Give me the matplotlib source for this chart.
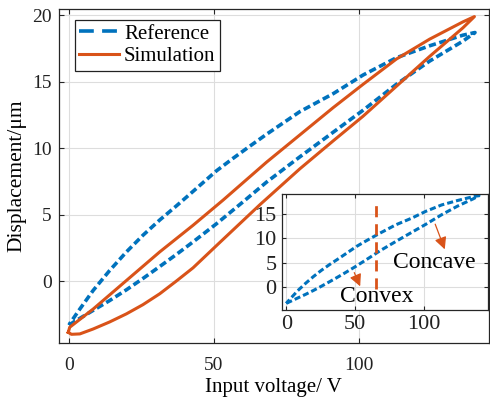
import numpy as np
import matplotlib.pyplot as plt

plt.rcParams['font.family'] = ['Liberation Serif', 'DejaVu Serif']

# measured loop, rising branch then falling branch
ref_up_x = [0, 1.4, 8.3, 14, 19.8, 25.5, 31.3, 37, 42.8, 50.8, 60, 68.2, 79.7, 91.2, 101.5, 113, 124.5, 136, 140.2]
ref_up_y = [-3.3, -3.1, -2.2, -1.46, -0.65, 0.2, 1.1, 2.0, 2.95, 4.3, 5.95, 7.45, 9.35, 11.2, 12.85, 14.8, 16.55, 18.05, 18.7]
ref_dn_x = [140.2, 136, 124.5, 113, 101.5, 91.2, 79.7, 68.2, 62.4, 56.7, 50.9, 42.8, 37, 31.3, 25.5, 19.8, 14, 8.3, 3.7, 0.2, 0]
ref_dn_y = [18.7, 18.5, 17.7, 16.8, 15.5, 14.1, 12.75, 11.05, 10.15, 9.25, 8.3, 6.75, 5.65, 4.6, 3.45, 2.2, 0.8, -0.7, -2.1, -3.2, -3.3]

# simulated loop
sim_up_x = [-0.3, 0.8, 3.7, 8.3, 14, 19.8, 25.5, 31.3, 37, 42.8, 52, 65.9, 79.7, 91.2, 101.5, 113, 124.5, 136, 140]
sim_up_y = [-3.85, -4.0, -3.97, -3.6, -3.07, -2.46, -1.77, -0.95, 0.0, 1.0, 2.9, 5.75, 8.45, 10.55, 12.4, 14.65, 16.9, 19.05, 19.9]
sim_dn_x = [140, 136, 124.5, 113, 101.5, 91.2, 79.7, 68.2, 53.2, 42.8, 31.3, 19.8, 8.3, 0.2, -0.3]
sim_dn_y = [19.9, 19.5, 18.2, 16.7, 14.8, 13.05, 11.0, 8.95, 6.1, 4.2, 2.2, 0.05, -2.1, -3.47, -3.85]

ref_x = ref_up_x + ref_dn_x
ref_y = ref_up_y + ref_dn_y
sim_x = sim_up_x + sim_dn_x
sim_y = sim_up_y + sim_dn_y

blue = '#0072BD'
orange = '#D95319'
axcol = '#262626'

fig = plt.figure(figsize=(4.9, 4.03), dpi=100)
ax = fig.add_axes([0.1198, 0.149, 0.878, 0.828])

ax.plot(ref_x, ref_y, color=blue, lw=2.6, ls=(0, (2.0, 1.0)), label='Reference', solid_joinstyle='round')
ax.plot(sim_x, sim_y, color=orange, lw=2.2, label='Simulation', solid_joinstyle='round')

ax.set_xlim(-3.6, 145)
ax.set_ylim(-4.65, 20.45)
ax.set_xticks([0, 50, 100])
ax.set_yticks([0, 5, 10, 15, 20])
ax.grid(True, color='#dddddd', lw=0.8)
ax.set_axisbelow(True)
ax.tick_params(direction='in', top=True, right=True, length=3.5, width=0.8,
               labelsize=14, colors=axcol, labelcolor='#222222', pad=5)
ax.tick_params(axis='x', pad=10)
for s in ax.spines.values():
    s.set_color(axcol)
    s.set_linewidth(0.9)
ax.set_xlabel('Input voltage/ V', fontsize=15, labelpad=3)
ax.set_ylabel('Displacement/μm', fontsize=15.5, labelpad=4)

leg = ax.legend(loc='upper left', bbox_to_anchor=(0.038, 0.968), borderaxespad=0,
                fontsize=15, fancybox=False, edgecolor='#222222', framealpha=1,
                handlelength=1.9, handletextpad=0.25, borderpad=0.2, labelspacing=0.15)
leg.get_frame().set_linewidth(0.9)
leg.get_lines()[0].set_linestyle((0, (4.1, 2.3)))

# zoomed view of the measured loop
ins = fig.add_axes([0.5761, 0.2315, 0.4205, 0.2879])
ins.plot(ref_x, ref_y, color=blue, lw=2.2, ls=(0, (2.0, 1.0)))
ins.plot([65.5, 65.5], [-0.35, 16.8], color=orange, lw=2.0, ls=(0, (4, 2.5)))
ins.annotate('', xy=(116, 7.2), xytext=(107.6, 13.4),
             arrowprops=dict(arrowstyle='-|>', color=orange, lw=0.9, mutation_scale=18))
ins.annotate('', xy=(54.5, -0.35), xytext=(48.6, 3.5),
             arrowprops=dict(arrowstyle='-|>', color=orange, lw=0.9, mutation_scale=18))
ins.text(108, 5.0, 'Concave', fontsize=17, ha='center', va='center')
ins.text(65.5, -1.9, 'Convex', fontsize=17, ha='center', va='center')
ins.set_xlim(-3, 147)
ins.set_ylim(-4.6, 19.1)
ins.set_xticks([0, 50, 100])
ins.set_yticks([0, 5, 10, 15])
ins.grid(True, color='#dddddd', lw=0.8)
ins.set_axisbelow(True)
ins.tick_params(direction='in', top=True, right=True, length=3, width=0.8,
                labelsize=16, colors=axcol, labelcolor='#222222', pad=4)
for s in ins.spines.values():
    s.set_color(axcol)
    s.set_linewidth(0.9)

fig.savefig('out.png', dpi=100)
